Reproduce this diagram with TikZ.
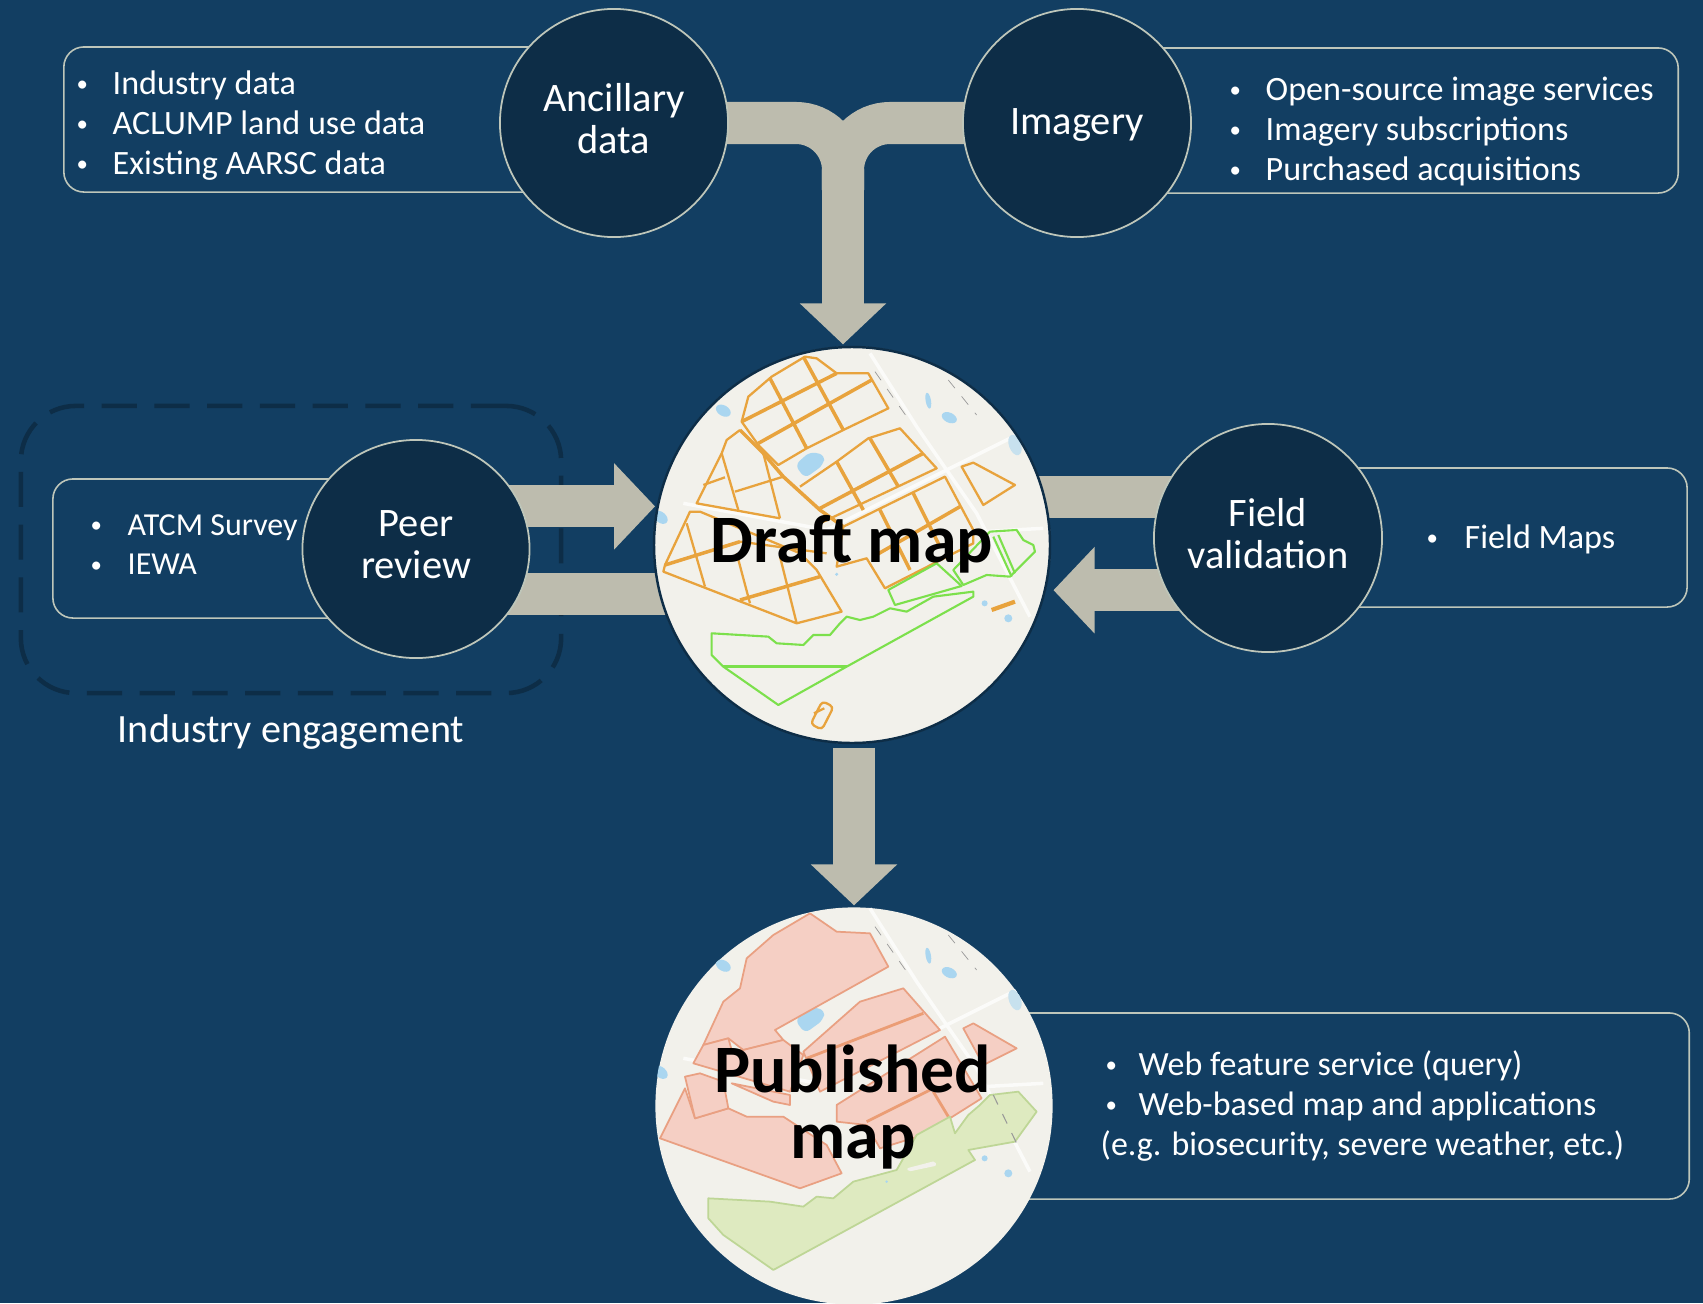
\documentclass[tikz,border=0pt]{standalone}
\usepackage{fontspec}
\setmainfont{Carlito}
\usepackage{tikz}
\usetikzlibrary{arrows.meta, backgrounds, shapes.geometric}
\definecolor{slide}{RGB}{18,62,98}
\definecolor{hubfill}{RGB}{13,45,71}
\definecolor{rim}{RGB}{190,198,186}
\definecolor{flow}{RGB}{189,188,174}
\definecolor{land}{RGB}{242,241,235}
\definecolor{pond}{RGB}{170,214,240}
\definecolor{roadorange}{RGB}{232,163,61}
\definecolor{parkgreen}{RGB}{124,224,76}
\definecolor{pinkfill}{RGB}{245,207,196}
\definecolor{pinkline}{RGB}{233,160,130}
\definecolor{greenfill}{RGB}{222,234,192}
\definecolor{greenline}{RGB}{190,214,150}
\tikzset{
	hub/.style={
		draw=rim,
		circle,
		fill=hubfill,
		line width=.5pt,
		inner sep=0pt,
		minimum size=2.28cm
	},
	hubtext/.style={
		align=center,
		text=white,
		inner sep=0pt,
		yshift=.04cm,
		font=\fontsize{11.5}{12}\selectfont
	},
	mapdisc/.style={
		circle,
		fill=land,
		inner sep=0pt,
		minimum size=3.97cm,
		outer sep=.02cm
	},
	maptitle/.style={
		align=center,
		font=\fontsize{19.3}{19}\selectfont\bfseries,
		inner sep=0pt
	},
	listbox/.style={
		draw=rim,
		rectangle,
		rounded corners=.2cm,
		line width=.45pt
	},
	itemlist/.style={
		anchor=north west,
		align=left,
		text=white,
		inner sep=0pt,
		font=\fontsize{9.7}{11.4}\selectfont
	}
}
\newcommand{\bul}[1][.36cm]{\makebox[#1][l]{\raisebox{.8pt}{\fontsize{6.5}{6.5}\selectfont\textbullet}}}
% roads and ponds under both maps
\newcommand{\mapbase}{
	\draw[white!70!land, line width=.035cm] (690,40) -- (830,260) -- (1010,520) -- (1170,830);
	\draw[white!70!land, line width=.035cm] (130,490) -- (560,570) -- (1040,330) -- (1130,285);
	\draw[white!70!land, line width=.035cm] (1030,575) -- (1210,565);
	\fill[pond, rounded corners=.06cm] (465,375) -- (510,335) -- (555,345) -- (550,375) -- (495,415) -- cycle;
	\fill[pond, rotate around={-30:(250,212)}] (250,212) ellipse (24 and 16);
	\fill[pond, rotate around={10:(865,182)}] (865,182) ellipse (8 and 24);
	\fill[pond, rotate around={-25:(928,233)}] (928,233) ellipse (24 and 15);
	\fill[pond, rotate around={-40:(62,532)}] (62,532) ellipse (24 and 16);
	\fill[pond] (1034,790) circle (9);
	\fill[pond] (1105,835) circle (12);
	\fill[pond] (590,703) circle (5);
	\fill[pond!60!land, rotate around={-70:(1125,315)}] (1125,315) ellipse (32 and 18);
	\draw[gray!80, line width=.2pt, dashed] (705,95) -- (800,230);
	\draw[gray!80, line width=.2pt, dashed] (925,120) -- (1010,225);
}
\begin{document}
\begin{tikzpicture}[x=.01cm, y=-.01cm]
	\useasboundingbox (0,0) rectangle (1703,1303);
	\tikzset{flowbar/.style={flow, line width=.42cm, shorten <=-.25cm}}
	\tikzset{flowarrow/.style={flowbar, -{Triangle[length=.41cm, width=.84cm]}}}
	
	\node(ancillarybox) at (330,119.5) [listbox, minimum width=5.32cm, minimum height=1.45cm] {};
	\node(imagerybox) at (1340,120.5) [listbox, minimum width=6.76cm, minimum height=1.45cm] {};
	\node(peerbox) at (250,548.5) [listbox, minimum width=3.94cm, minimum height=1.39cm] {};
	\node(fieldbox) at (1480,537.5) [listbox, minimum width=4.14cm, minimum height=1.39cm] {};
	\node(publishedbox) at (1245,1106) [listbox, minimum width=8.88cm, minimum height=1.86cm] {};
	
	\node(ancillarylist) at (76,70) [itemlist] {\bul Industry data\\\bul ACLUMP land use data\\\bul Existing AARSC data};
	\node(imagerylist) at (1229,76) [itemlist] {\bul Open-source image services\\\bul Imagery subscriptions\\\bul Purchased acquisitions};
	\node(peerlist) at (90,514) [itemlist, font=\fontsize{9.1}{11.2}\selectfont] {\bul[.37cm]ATCM Survey\\\bul[.37cm]IEWA};
	\node(fieldlist) at (1426,524) [itemlist] {\bul[.38cm]Field Maps};
	\node(publishedlist) at (1100,1050) [itemlist, font=\fontsize{9.65}{11.4}\selectfont] {\hspace{.05cm}\bul[.33cm]Web feature service (query)\\\hspace{.05cm}\bul[.33cm]Web-based map and applications\\(e.g. biosecurity, severe weather, etc.)};
	
	\node(ancillary) at (614,123) [hub, label={[hubtext]center:Ancillary\\data}] {};
	\node(imagery) at (1077,123) [hub, label={[hubtext, yshift=-.06cm]center:Imagery}] {};
	\node(peer) at (416,549) [hub, ellipse, minimum width=2.27cm, minimum height=2.18cm, label={[hubtext]center:Peer\\review}] {};
	\node(field) at (1268,538) [hub, label={[hubtext]center:Field\\validation}] {};
	
	\node(draft) at (852,545) [mapdisc] {};
	\begin{scope}[shift={(640,340)}, scale=.3333]
		\clip (636,615) circle (595);
		\mapbase
		\tikzset{parcel/.style={roadorange, line width=.65pt, line join=round}}
		\tikzset{park/.style={parkgreen, line width=.6pt, line join=round}}
		% top block
		\draw[parcel] (305,245) -- (325,170) -- (395,110) -- (495,50) -- (530,55) -- (590,100) -- (685,100) -- (745,205) -- (610,270) -- (500,325) -- (415,375) -- (355,315) -- cycle;
		\draw[parcel, line width=1pt] (305,245) -- (590,100) (355,310) -- (695,120) (390,115) -- (500,325) (490,50) -- (610,270);
		% left block
		\draw[parcel] (300,270) -- (260,300) -- (245,340) -- (170,490) -- (420,535);
		\draw[parcel, line width=1pt] (300,270) -- (370,340) -- (430,410) -- (540,510) -- (610,560);
		\draw[parcel] (245,340) -- (295,510) (370,340) -- (420,535) (190,435) -- (255,412) (285,455) -- (430,410);
		% lower left block
		\draw[parcel] (150,515) -- (75,675) -- (70,695) -- (470,850) -- (605,815) -- (530,690) -- (480,640) -- (180,515) -- cycle;
		\draw[parcel, line width=1pt] (75,675) -- (300,605) (300,780) -- (540,710);
		\draw[parcel] (140,550) -- (195,740) (290,640) -- (330,790) (420,650) -- (470,850) (300,605) -- (560,640);
		% middle block
		\draw[parcel] (480,440) -- (590,365) -- (685,295) -- (780,265) -- (890,385) -- (540,550);
		\draw[parcel, line width=1pt] (540,505) -- (850,340) (590,365) -- (670,510) (690,295) -- (775,440);
		% right block
		\draw[parcel] (610,560) -- (915,410) -- (1000,570) -- (1000,610) -- (735,745) -- (680,655) -- (590,680) -- cycle;
		\draw[parcel, line width=1pt] (720,510) -- (810,690) (820,460) -- (900,620) (700,650) -- (960,500);
		\draw[parcel] (965,380) -- (1000,368) -- (1125,435) -- (1030,495) -- cycle;
		\draw[parcel, line width=1.2pt] (1055,810) -- (1125,785);
		\draw[parcel, rounded corners=.04cm, rotate around={-27:(547,1125)}] (528,1088) rectangle (566,1165);
		\draw[parcel] (522,1120) -- (553,1105);
		% green parcels
		\draw[park] (215,880) -- (385,890) -- (410,910) -- (490,915) -- (520,885) -- (570,885) -- (600,850) -- (620,830) -- (660,840) -- (700,830) -- (750,805) -- (800,815) -- (880,770) -- (1000,755) -- (1000,770) -- (620,980) -- (415,1095) -- (250,980) -- (215,945) -- cycle;
		\draw[park, line width=.9pt] (250,980) -- (620,980);
		\draw[park] (745,750) -- (890,670) -- (965,738) -- (765,795) -- cycle;
		\draw[park] (940,690) -- (1050,575) -- (1130,570) -- (1150,600) -- (1180,615) -- (1185,635) -- (1110,710) -- (1040,705) -- (970,735) -- cycle;
		\draw[park] (1060,590) -- (1115,710) (1075,585) -- (1125,700);
	\end{scope}
	\draw[hubfill, line width=.7pt] (draft) circle (198);
	\node(draftlabel) at (852,544) [maptitle] {Draft map};
	
	\node(published) at (854,1106) [mapdisc] {};
	\begin{scope}[shift={(640,895)}, scale=.3333]
		\clip (642,633) circle (597);
		\mapbase
		\tikzset{parcel/.style={draw=pinkline, fill=pinkfill, line width=.5pt, line join=round}}
		\draw[parcel] (190,450) -- (250,320) -- (300,280) -- (320,190) -- (400,120) -- (510,55) -- (590,110) -- (690,115) -- (745,215) -- (405,405) -- (430,435) -- (310,465) -- (265,430) -- cycle;
		\draw[parcel] (160,505) -- (190,450) -- (265,430) -- (275,465) -- (310,465) -- (430,435) -- (490,480) -- (450,590) -- cycle;
		\draw[parcel] (275,565) -- (450,600) -- (450,630) -- (400,620) -- cycle;
		\draw[parcel] (135,580) -- (60,730) -- (480,880) -- (605,835) -- (560,750) -- (430,665) -- (320,665) -- (265,640) -- (165,670) -- cycle;
		\draw[parcel] (135,545) -- (180,535) -- (250,560) -- (265,640) -- (165,670) -- cycle;
		\draw[parcel] (490,470) -- (660,320) -- (790,280) -- (900,405) -- (540,590) -- cycle;
		\draw[parcel] (590,630) -- (915,425) -- (1025,610) -- (850,720) -- (720,760) -- (680,690) -- (590,680) -- cycle;
		\draw[parcel] (970,400) -- (1000,385) -- (1130,460) -- (1030,510) -- cycle;
		\draw[pinkline!90!orange, line width=.8pt] (500,490) -- (850,355) (680,680) -- (870,585) (880,590) -- (925,665);
		\draw[draw=greenline, fill=greenfill, line width=.5pt, line join=round] (205,910) -- (390,920) -- (490,935) -- (530,905) -- (580,910) -- (640,860) -- (770,825) -- (830,720) -- (930,665) -- (945,715) -- (985,660) -- (1020,630) -- (1050,600) -- (1135,590) -- (1190,650) -- (1125,740) -- (985,765) -- (1005,795) -- (400,1125) -- (250,1020) -- (205,970) -- cycle;
		\fill[land, rounded corners=.02cm] (800,820) -- (885,798) -- (890,812) -- (805,830) -- cycle;
		\fill[pond] (740,860) circle (4);
		\draw[gray!80, line width=.3pt, dashed] (1060,600) -- (1130,745);
	\end{scope}
	\node(publishedlabel) at (853,1107) [maptitle] {Published\\map};
	
	\node(engagementlabel) at (291,732) [text=white, inner sep=0pt, font=\fontsize{11.4}{12}\selectfont] {Industry engagement};
	
	\begin{scope}[on background layer]
		\fill[slide] (0,0) rectangle (1703,1303);
		\node(engagement) at (291,549.5) [draw=hubfill, rectangle, rounded corners=.55cm, line width=1.3pt, dash pattern=on 10pt off 5pt, minimum width=5.4cm, minimum height=2.87cm] {};
		
		\coordinate (junction) at (843,190);
		\draw[flowbar, rounded corners=.47cm] (ancillary.east) -| (junction);
		\draw[flowbar, rounded corners=.47cm] (imagery.west) -| (junction);
		\draw[flowarrow, shorten <=0cm] (junction) -- (junction |- draft.north);
		\draw[flowarrow] (peer.22) -- (peer.22 -| draft.169);
		\draw[flowbar, shorten >=-.25cm] (draft.194) -- (draft.194 -| peer.-23);
		\draw[flowbar, shorten >=-.25cm] (field.159) -- (field.159 -| draft.14);
		\draw[flowarrow, shorten >=.06cm] (field.207) -- (field.207 -| draft.-13);
		\draw[flowarrow, shorten <=.02cm] (published.north |- draft.south) -- (published.north);
	\end{scope}
\end{tikzpicture}
\end{document}
